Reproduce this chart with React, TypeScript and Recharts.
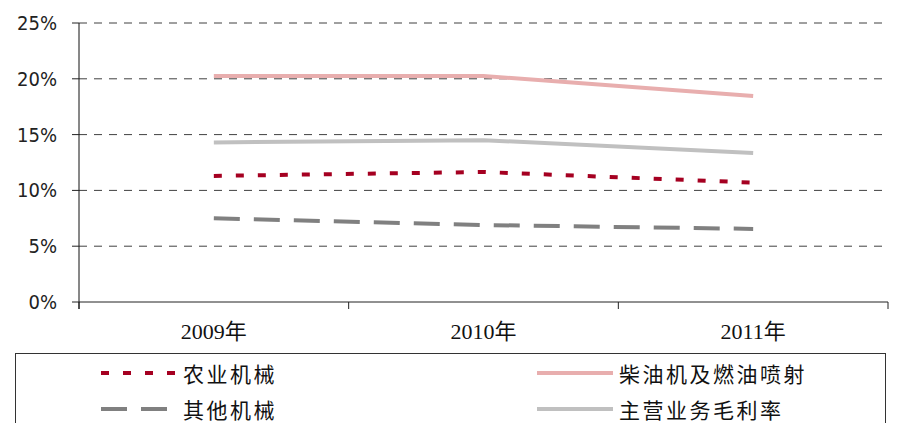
import { LineChart, Line, XAxis, YAxis, CartesianGrid } from 'recharts';

// 年份
const years = ['2009年', '2010年', '2011年'];

// 毛利率 (%)
const nongye = [11.3, 11.65, 10.7];
const chaiyou = [20.25, 20.25, 18.45];
const qita = [7.5, 6.9, 6.55];
const zhuying = [14.3, 14.5, 13.35];

const yTicks = [0, 5, 10, 15, 20, 25];

const seriesList = [
  { key: 'nongye', name: '农业机械', color: '#A50021', dash: '8 14' },
  { key: 'chaiyou', name: '柴油机及燃油喷射', color: '#E8AEAE', dash: undefined },
  { key: 'qita', name: '其他机械', color: '#808080', dash: '26 14' },
  { key: 'zhuying', name: '主营业务毛利率', color: '#C0C0C0', dash: undefined },
];

const data = years.map((year, i) => ({
  year,
  nongye: nongye[i],
  chaiyou: chaiyou[i],
  qita: qita[i],
  zhuying: zhuying[i],
}));

const PLOT_LEFT = 79;
const PLOT_RIGHT = 888;
const BAND = (PLOT_RIGHT - PLOT_LEFT) / years.length;

const XTick = (props: any) => {
  const { x, y, payload, index } = props;
  return (
    <g>
      <line x1={x - BAND / 2} y1={y} x2={x - BAND / 2} y2={y + 7} stroke="#222" strokeWidth={1} />
      {index === years.length - 1 && (
        <line x1={x + BAND / 2} y1={y} x2={x + BAND / 2} y2={y + 7} stroke="#222" strokeWidth={1} />
      )}
      <text
        x={x}
        y={y + 37}
        textAnchor="middle"
        fill="#111"
        fontSize={22}
        fontFamily="'Liberation Serif', 'Noto Sans CJK SC', serif"
      >
        {payload.value}
      </text>
    </g>
  );
};

const YTick = (props: any) => {
  const { x, y, payload, index } = props;
  return (
    <g>
      {index === 0 && (
        <line x1={PLOT_LEFT} y1={y} x2={PLOT_LEFT} y2={y + 7} stroke="#111" strokeWidth={1} />
      )}
      <text
        x={x}
        y={y}
        dy={7}
        textAnchor="end"
        fill="#222"
        fontSize={20}
        fontFamily="'Liberation Sans Narrow', 'DejaVu Sans Condensed', sans-serif"
      >
        {`${payload.value}%`}
      </text>
    </g>
  );
};

const LegendBox = () => {
  const cols = [
    [seriesList[0], seriesList[2]],
    [seriesList[1], seriesList[3]],
  ];
  const colX = [101, 537];
  const rowY = [372, 408];
  return (
    <div
      style={{
        position: 'absolute',
        left: 15,
        top: 353,
        width: 871,
        height: 90,
        border: '1px solid #333',
        boxSizing: 'border-box',
      }}
    >
      {cols.map((col, ci) =>
        col.map((s, ri) => (
          <div
            key={s.key}
            style={{
              position: 'absolute',
              left: colX[ci] - 16,
              top: rowY[ri] - 353 - 14,
              height: 28,
              display: 'flex',
              alignItems: 'center',
            }}
          >
            <svg width={78} height={28} style={{ display: 'block' }}>
              <line
                x1={0}
                y1={14}
                x2={76}
                y2={14}
                stroke={s.color}
                strokeWidth={4}
                strokeDasharray={s.dash}
              />
            </svg>
            <span
              style={{
                marginLeft: 4,
                fontSize: 21,
                letterSpacing: 2.5,
                color: '#111',
                fontFamily: "'Noto Sans CJK SC', sans-serif",
                lineHeight: '28px',
              }}
            >
              {s.name}
            </span>
          </div>
        ))
      )}
    </div>
  );
};

export default function App() {
  return (
    <div style={{ position: 'relative', width: 901, height: 423, overflow: 'hidden', background: '#fff' }}>
      <style>{'body{margin:0}'}</style>
      <LineChart
        width={901}
        height={423}
        data={data}
        margin={{ top: 23, right: 901 - PLOT_RIGHT, bottom: 71, left: 0 }}
      >
        <CartesianGrid
          horizontal
          vertical={false}
          stroke="#404040"
          strokeDasharray="8 7"
          horizontalValues={yTicks.filter((v) => v > 0)}
        />
        <XAxis
          dataKey="year"
          scale="band"
          height={50}
          tickLine={false}
          tickSize={0}
          tickMargin={0}
          axisLine={{ stroke: '#222', strokeWidth: 1 }}
          tick={<XTick />}
          interval={0}
        />
        <YAxis
          width={PLOT_LEFT}
          domain={[0, 25]}
          ticks={yTicks}
          tickSize={7}
          tickMargin={15}
          tickLine={{ stroke: '#222' }}
          axisLine={{ stroke: '#111', strokeWidth: 1 }}
          tick={<YTick />}
        />
        {seriesList.map((s) => (
          <Line
            key={s.key}
            dataKey={s.key}
            name={s.name}
            type="linear"
            stroke={s.color}
            strokeWidth={4}
            strokeDasharray={s.dash}
            dot={false}
            activeDot={false}
            isAnimationActive={false}
          />
        ))}
      </LineChart>
      <LegendBox />
    </div>
  );
}
